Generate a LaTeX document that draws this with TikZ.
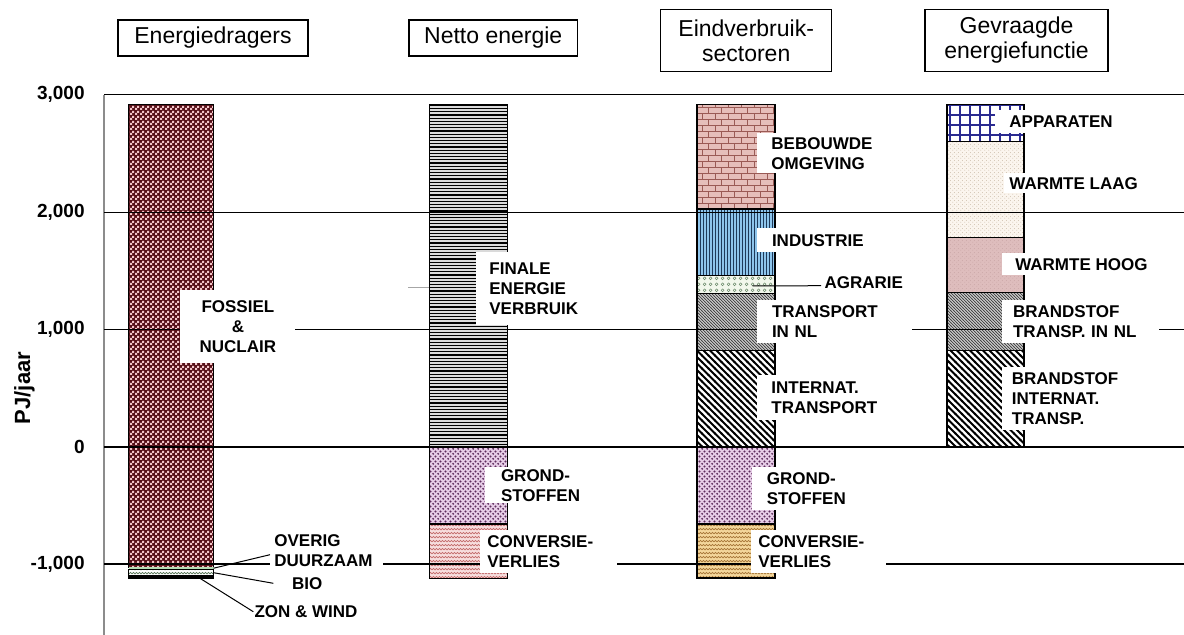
\documentclass[tikz,border=0pt]{standalone}
\usepackage{fontspec}
\setmainfont{Liberation Sans}
\usetikzlibrary{patterns}

\definecolor{fossred}{HTML}{561018}
\definecolor{fossbg}{HTML}{F2C4C8}
\definecolor{finbg}{HTML}{DADADA}
\definecolor{brickbg}{HTML}{E6BEBA}
\definecolor{brickln}{HTML}{9A5A55}
\definecolor{indbg}{HTML}{8EC5EC}
\definecolor{indln}{HTML}{1E3A5A}
\definecolor{agrbg}{HTML}{F2F7EC}
\definecolor{agrln}{HTML}{6E8C6E}
\definecolor{trnbg}{HTML}{D2D2D2}
\definecolor{trnln}{HTML}{3C3C3C}
\definecolor{grbg}{HTML}{E6CCE6}
\definecolor{grln}{HTML}{5E2E5E}
\definecolor{cvpink}{HTML}{F7DEDE}
\definecolor{cvpinkln}{HTML}{C46E6E}
\definecolor{cvtan}{HTML}{F4D79C}
\definecolor{cvtanln}{HTML}{A8783A}
\definecolor{appln}{HTML}{2A2A90}
\definecolor{wlabg}{HTML}{FBF5EE}
\definecolor{wlaln}{HTML}{C9B9A6}
\definecolor{whobg}{HTML}{DEBDBD}
\definecolor{wholn}{HTML}{C9A5A5}
\definecolor{bioln}{HTML}{5A785A}
\definecolor{ovdcol}{HTML}{B5DDB5}

\pgfdeclarepatternformonly{smallcheck}{\pgfqpoint{0pt}{0pt}}{\pgfqpoint{2.5pt}{2.5pt}}{\pgfqpoint{2.5pt}{2.5pt}}{%
  \pgfpathrectangle{\pgfqpoint{0pt}{0pt}}{\pgfqpoint{1.25pt}{1.25pt}}%
  \pgfpathrectangle{\pgfqpoint{1.25pt}{1.25pt}}{\pgfqpoint{1.25pt}{1.25pt}}%
  \pgfusepath{fill}}
\pgfdeclarepatternformonly{denselines}{\pgfqpoint{-0.5pt}{0pt}}{\pgfqpoint{2pt}{1.6pt}}{\pgfqpoint{1.5pt}{1.6pt}}{%
  \pgfsetlinewidth{0.6pt}\pgfpathmoveto{\pgfqpoint{-0.5pt}{0.8pt}}\pgfpathlineto{\pgfqpoint{2pt}{0.8pt}}\pgfusepath{stroke}}
\pgfdeclarepatternformonly{densevlines}{\pgfqpoint{0pt}{-0.5pt}}{\pgfqpoint{1.5pt}{2pt}}{\pgfqpoint{1.5pt}{1.5pt}}{%
  \pgfsetlinewidth{0.4pt}\pgfpathmoveto{\pgfqpoint{0.75pt}{-0.5pt}}\pgfpathlineto{\pgfqpoint{0.75pt}{2pt}}\pgfusepath{stroke}}
\pgfdeclarepatternformonly{finehatch}{\pgfqpoint{-0.5pt}{-0.5pt}}{\pgfqpoint{2pt}{2pt}}{\pgfqpoint{1.5pt}{1.5pt}}{%
  \pgfsetlinewidth{0.35pt}\pgfpathmoveto{\pgfqpoint{-0.1pt}{1.6pt}}\pgfpathlineto{\pgfqpoint{1.6pt}{-0.1pt}}\pgfusepath{stroke}}
\pgfdeclarepatternformonly{boldhatch}{\pgfqpoint{-1pt}{-1pt}}{\pgfqpoint{4.25pt}{4.25pt}}{\pgfqpoint{3.25pt}{3.25pt}}{%
  \pgfsetlinewidth{0.9pt}\pgfpathmoveto{\pgfqpoint{-0.3pt}{3.55pt}}\pgfpathlineto{\pgfqpoint{3.55pt}{-0.3pt}}\pgfusepath{stroke}}
\pgfdeclarepatternformonly{brickwall}{\pgfqpoint{-0.5pt}{-0.5pt}}{\pgfqpoint{7pt}{6.5pt}}{\pgfqpoint{6.5pt}{6pt}}{%
  \pgfsetlinewidth{0.45pt}%
  \pgfpathmoveto{\pgfqpoint{0pt}{0pt}}\pgfpathlineto{\pgfqpoint{6.5pt}{0pt}}%
  \pgfpathmoveto{\pgfqpoint{0pt}{3pt}}\pgfpathlineto{\pgfqpoint{6.5pt}{3pt}}%
  \pgfpathmoveto{\pgfqpoint{0pt}{0pt}}\pgfpathlineto{\pgfqpoint{0pt}{3pt}}%
  \pgfpathmoveto{\pgfqpoint{3.25pt}{3pt}}\pgfpathlineto{\pgfqpoint{3.25pt}{6pt}}%
  \pgfusepath{stroke}}
\pgfdeclarepatternformonly{speckle}{\pgfqpoint{0pt}{0pt}}{\pgfqpoint{2.4pt}{2.4pt}}{\pgfqpoint{2.4pt}{2.4pt}}{%
  \pgfpathcircle{\pgfqpoint{0.6pt}{0.6pt}}{0.55pt}\pgfpathcircle{\pgfqpoint{1.8pt}{1.8pt}}{0.55pt}\pgfusepath{fill}}
\pgfdeclarepatternformonly{finedots}{\pgfqpoint{0pt}{0pt}}{\pgfqpoint{2pt}{2pt}}{\pgfqpoint{2pt}{2pt}}{%
  \pgfpathcircle{\pgfqpoint{0.5pt}{0.5pt}}{0.3pt}\pgfpathcircle{\pgfqpoint{1.5pt}{1.5pt}}{0.3pt}\pgfusepath{fill}}
\pgfdeclarepatternformonly{ripple}{\pgfqpoint{-0.5pt}{-0.5pt}}{\pgfqpoint{3.5pt}{2.5pt}}{\pgfqpoint{3pt}{2pt}}{%
  \pgfsetlinewidth{0.35pt}\pgfpathmoveto{\pgfqpoint{0pt}{0.5pt}}\pgfpathlineto{\pgfqpoint{0.75pt}{1.3pt}}%
  \pgfpathlineto{\pgfqpoint{1.5pt}{0.5pt}}\pgfpathlineto{\pgfqpoint{2.25pt}{1.3pt}}\pgfpathlineto{\pgfqpoint{3pt}{0.5pt}}\pgfusepath{stroke}}
\pgfdeclarepatternformonly{rings}{\pgfqpoint{0pt}{0pt}}{\pgfqpoint{3pt}{3pt}}{\pgfqpoint{3pt}{3pt}}{%
  \pgfsetlinewidth{0.3pt}\pgfpathcircle{\pgfqpoint{1.5pt}{1.5pt}}{0.8pt}\pgfusepath{stroke}}
\pgfdeclarepatternformonly{widegrid}{\pgfqpoint{-0.5pt}{-0.5pt}}{\pgfqpoint{5.5pt}{5.5pt}}{\pgfqpoint{5pt}{5pt}}{%
  \pgfsetlinewidth{0.7pt}\pgfpathmoveto{\pgfqpoint{0pt}{-0.5pt}}\pgfpathlineto{\pgfqpoint{0pt}{5.5pt}}%
  \pgfpathmoveto{\pgfqpoint{-0.5pt}{0pt}}\pgfpathlineto{\pgfqpoint{5.5pt}{0pt}}\pgfusepath{stroke}}

\newcommand{\lblfont}{\bfseries\fontsize{8.5}{10}\selectfont}
\newcommand{\tickfont}{\bfseries\fontsize{9.5}{11}\selectfont}
\newcommand{\headfont}{\fontsize{11.5}{12.5}\selectfont}

\tikzset{
  seg/.style={draw=black, line width=0.7pt},
  fossiel/.style={seg, preaction={fill=fossred}, pattern=smallcheck, pattern color=fossbg},
  finale/.style={seg, preaction={fill=finbg}, pattern=denselines, pattern color=black},
  bebouwd/.style={seg, preaction={fill=brickbg}, pattern=brickwall, pattern color=brickln},
  industrie/.style={seg, preaction={fill=indbg}, pattern=densevlines, pattern color=indln},
  agrarie/.style={seg, preaction={fill=agrbg}, pattern=rings, pattern color=agrln},
  transnl/.style={seg, preaction={fill=trnbg}, pattern=finehatch, pattern color=trnln},
  transint/.style={seg, preaction={fill=white}, pattern=boldhatch, pattern color=black},
  grond/.style={seg, preaction={fill=grbg}, pattern=speckle, pattern color=grln},
  convpink/.style={seg, preaction={fill=cvpink}, pattern=ripple, pattern color=cvpinkln},
  convtan/.style={seg, preaction={fill=cvtan}, pattern=ripple, pattern color=cvtanln},
  apparaat/.style={seg, preaction={fill=white}, pattern=widegrid, pattern color=appln},
  warmlaag/.style={seg, preaction={fill=wlabg}, pattern=finedots, pattern color=wlaln},
  warmhoog/.style={seg, preaction={fill=whobg}, pattern=finedots, pattern color=wholn},
  bio/.style={seg, preaction={fill=white}, pattern=ripple, pattern color=bioln},
  gridln/.style={draw=black, line width=0.55pt},
  axisln/.style={draw=black!45, line width=0.6pt},
  stub/.style={draw=black!35, line width=0.6pt},
  leader/.style={draw=black, line width=0.5pt},
  head/.style={draw=black, line width=0.6pt, font=\headfont, align=center, inner sep=0pt},
  tick/.style={anchor=east, font=\tickfont, inner sep=0pt},
  lbl/.style={fill=white, font=\lblfont, align=left, anchor=north west, inner ysep=0pt, inner xsep=7pt}
}

\begin{document}
\begin{tikzpicture}[x=0.5pt,y=-0.5pt]
  \useasboundingbox (0,0) rectangle (1184,635);

  \node[head, minimum width=95pt, minimum height=18pt] (hdrager) at (213,38) {Energiedragers};
  \node[head, minimum width=84.3pt, minimum height=18pt] (hnetto) at (493.2,38) {Netto energie};
  \node[head, minimum width=85.5pt, minimum height=31pt] (hsector) at (746.2,40.3) {Eindverbruik-\\sectoren};
  \node[head, minimum width=91.5pt, minimum height=31pt] (hfunctie) at (1016.5,40.3) {Gevraagde\\energiefunctie};

  \node[rotate=90, font=\bfseries\fontsize{11}{13}\selectfont, inner sep=0pt] (unit) at (24.5,388) {PJ/jaar};

  \begin{scope}[shift={(0,446.7)}, y=0.05865pt]
    \draw[fossiel] (128.6,-1028) rectangle (213.5,2919);
    \fill[ovdcol] (128.6,-1045) rectangle (213.5,-1028);
    \draw[bio] (128.6,-1100) rectangle (213.5,-1045);
    \draw[seg, fill=black] (128.6,-1125) rectangle (213.5,-1100);

    \draw[finale] (429.4,0) rectangle (507.5,2919);
    \draw[grond] (429.4,-659) rectangle (507.5,0);
    \draw[convpink] (429.4,-1122) rectangle (507.5,-659);

    \draw[bebouwd] (697,2026) rectangle (775,2919);
    \draw[industrie] (697,1461) rectangle (775,2026);
    \draw[agrarie] (697,1308) rectangle (775,1461);
    \draw[transnl] (697,818) rectangle (775,1308);
    \draw[transint] (697,0) rectangle (775,818);
    \draw[grond] (697,-659) rectangle (775,0);
    \draw[convtan] (697,-1120) rectangle (775,-659);

    \draw[apparaat] (947,2603) rectangle (1024,2919);
    \draw[warmlaag] (947,1785) rectangle (1024,2603);
    \draw[warmhoog] (947,1313) rectangle (1024,1785);
    \draw[transnl] (947,818) rectangle (1024,1313);
    \draw[transint] (947,0) rectangle (1024,818);

    \draw[axisln] (104,3000) -- (104,-1605);
    \foreach \v in {-1000,1000,2000,3000}
      \draw[gridln] (104,\v) -- (1184,\v);
    \draw[gridln, line width=1pt] (104,0) -- (1184,0);
    \foreach \v/\t in {3000/{3,000},2000/{2,000},1000/{1,000},0/0,-1000/{-1,000}}
      \node[tick] (t\v) at (85,\v) {\t};

    \coordinate (ovdpt) at (213.5,-1036);
    \coordinate (biopt) at (213.5,-1074);
    \coordinate (zonpt) at (200,-1122);
    \coordinate (agrpt) at (752.7,1370);
  \end{scope}

  \draw[stub] (408,287.7) -- (429.4,287.7);

  \node[lbl, align=center, inner xsep=3pt, text width=51.5pt, minimum height=36.5pt] (fos) at (180,290) {FOSSIEL\\\&\\NUCLAIR};
  \node[lbl, inner xsep=2pt, text width=52.3pt, minimum height=20.3pt] (ovd) at (270,530) {OVERIG\\DUURZAAM};
  \node[lbl, anchor=west, inner xsep=9.2pt] (bio) at (273.3,583.3) {BIO};
  \node[lbl, anchor=west, inner xsep=0.4pt] (zon) at (253.3,611.7) {ZON \& WIND};

  \node[lbl, inner xsep=6.5pt, minimum height=36.6pt] (fin) at (476,251.7) {FINALE\\ENERGIE\\VERBRUIK};
  \node[lbl, inner xsep=7.8pt, minimum height=18.2pt] (gr2) at (485,466.7) {GROND-\\STOFFEN};
  \node[lbl, inner xsep=3.5pt, text width=61.5pt, minimum height=21.5pt] (cv2) at (480,530) {CONVERSIE-\\VERLIES};

  \node[lbl, inner xsep=7.3pt, minimum height=20pt] (beb) at (756.4,133) {BEBOUWDE\\OMGEVING};
  \node[lbl, inner xsep=7.3pt, minimum height=11.85pt] (ind) at (757,228) {INDUSTRIE};
  \node[lbl, anchor=west, inner xsep=1.5pt] (agr) at (821.2,282.7) {AGRARIE};
  \node[lbl, inner xsep=7.3pt, text width=62.9pt, minimum height=21.5pt] (trn) at (757,300) {TRANSPORT\\IN NL};
  \node[lbl, inner xsep=7.3pt, minimum height=22.5pt] (int) at (756.4,375) {INTERNAT.\\TRANSPORT};
  \node[lbl, inner xsep=7.4pt, minimum height=21.6pt] (gr3) at (751.6,466.7) {GROND-\\STOFFEN};
  \node[lbl, inner xsep=3.6pt, text width=60.4pt, minimum height=21.5pt] (cv3) at (750.8,530) {CONVERSIE-\\VERLIES};

  \node[lbl, inner xsep=7pt, minimum height=11.5pt] (app) at (995,110) {APPARATEN};
  \node[lbl, inner xsep=2.5pt, minimum height=10pt] (wla) at (1004,173) {WARMTE LAAG};
  \node[lbl, inner xsep=6.6pt, minimum height=11pt] (who) at (1001.7,253) {WARMTE HOOG};
  \node[lbl, inner xsep=5.5pt, text width=67.2pt, minimum height=21.5pt] (bnl) at (1001.7,300) {BRANDSTOF\\TRANSP. IN NL};
  \node[lbl, inner xsep=5pt, minimum height=31.6pt] (bin) at (1001.5,366.7) {BRANDSTOF\\INTERNAT.\\TRANSP.};

  \draw[leader] (ovdpt) -- ([yshift=-2pt]ovd.west);
  \draw[leader] (biopt) -- (bio.west);
  \draw[leader] (zonpt) -- (zon.west);
  \draw[leader] (agrpt) -- ([yshift=-1.5pt]agr.west);
\end{tikzpicture}
\end{document}
